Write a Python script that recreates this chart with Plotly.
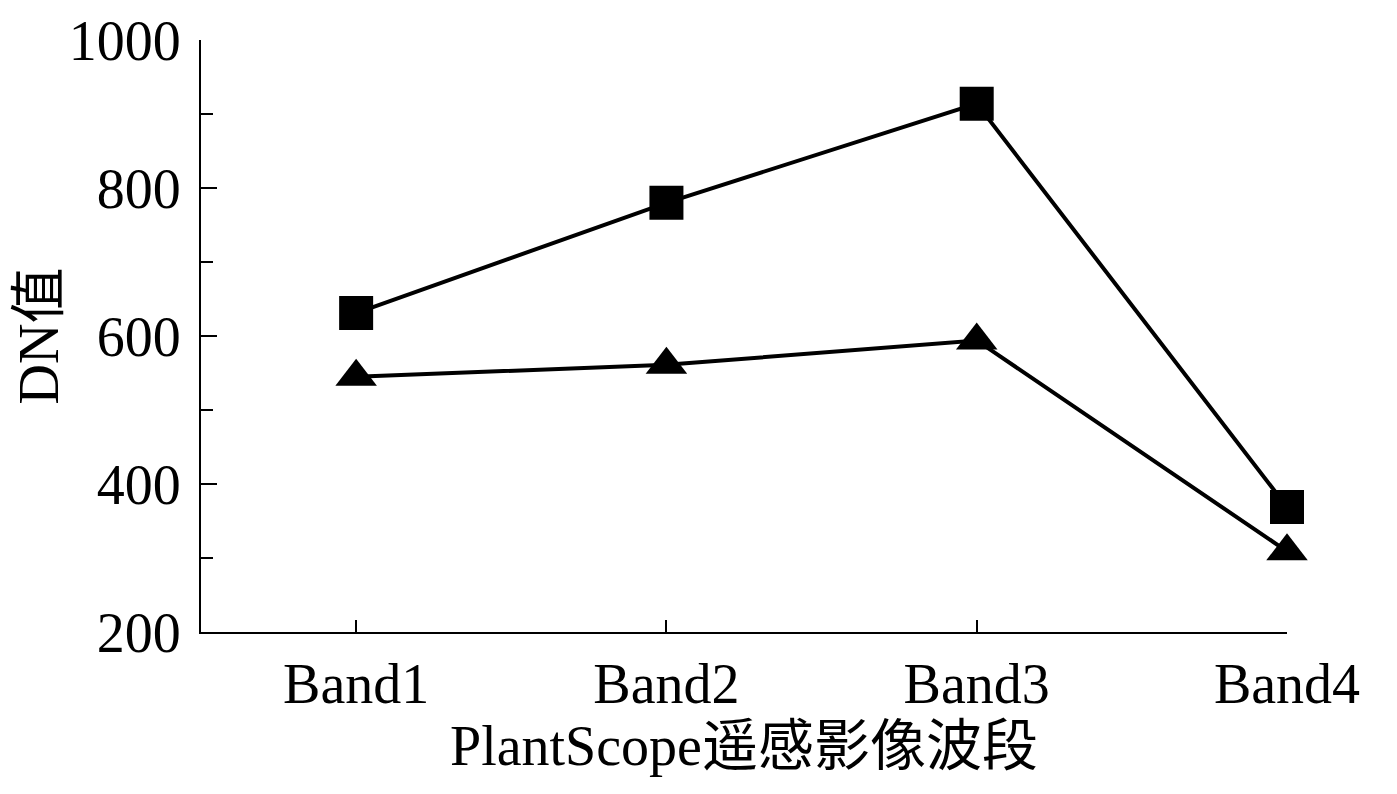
import plotly.graph_objects as go

bands = ["Band1", "Band2", "Band3", "Band4"]
square_values = [631, 780, 914, 369]
triangle_values = [545, 561, 594, 309]

FONT = "Liberation Serif, Times New Roman, Noto Sans CJK SC, serif"

fig = go.Figure()
fig.add_trace(go.Scatter(
    x=bands, y=square_values, mode="lines+markers",
    line=dict(color="black", width=4),
    marker=dict(symbol="square", size=34, color="black"),
    cliponaxis=False, showlegend=False,
))
fig.add_trace(go.Scatter(
    x=bands, y=triangle_values, mode="lines+markers",
    line=dict(color="black", width=4),
    marker=dict(symbol="triangle-up", size=36, color="black"),
    cliponaxis=False, showlegend=False,
))

# page body has an 8px margin, so the figure is a bit smaller than the window
fig.update_layout(
    width=1381, height=778,
    plot_bgcolor="white", paper_bgcolor="white",
    margin=dict(l=193, r=102, t=32, b=154),
    font=dict(family=FONT, size=56, color="black"),
)
fig.update_xaxes(
    type="category", range=[-0.5, 3], automargin=False,
    showline=True, linecolor="black", linewidth=2,
    ticks="inside", ticklen=12, tickwidth=2, tickcolor="black",
    showgrid=False, zeroline=False,
    tickfont=dict(size=56), ticklabelstandoff=2,
    title=dict(text="PlantScope遥感影像波段", font=dict(size=56), standoff=0),
)
fig.update_yaxes(
    range=[200, 1000], tickvals=[200, 400, 600, 800, 1000], automargin=False,
    showline=True, linecolor="black", linewidth=2,
    ticks="inside", ticklen=16, tickwidth=2, tickcolor="black",
    minor=dict(dtick=100, ticks="inside", ticklen=12, tickwidth=2, tickcolor="black"),
    showgrid=False, zeroline=False,
    tickfont=dict(size=56), ticklabelstandoff=7,
    title=dict(text="DN值", font=dict(size=56), standoff=30),
)

fig.write_html("out.html")
